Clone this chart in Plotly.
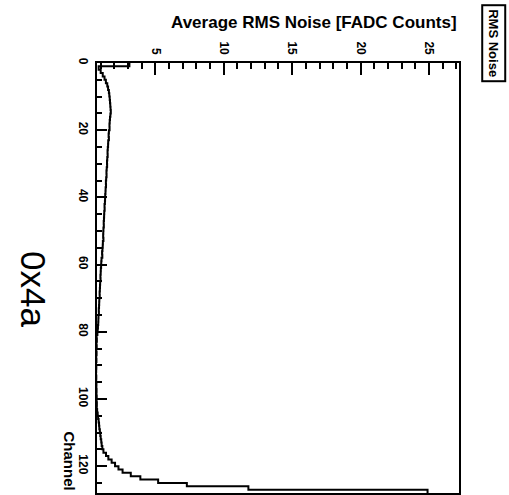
import plotly.graph_objects as go

# Channel bin low edges (128 channels, width 1)
channels = list(range(128))

# Average RMS noise per channel [FADC counts]
rms_noise = [
    3.1, 0.85, 1.0, 1.15, 1.28, 1.38, 1.48, 1.54, 1.6, 1.63,
    1.66, 1.68, 1.7, 1.72, 1.74, 1.71, 1.68, 1.66, 1.64, 1.65,
    1.6, 1.58, 1.6, 1.55, 1.54, 1.52, 1.5, 1.51, 1.48, 1.46,
    1.47, 1.44, 1.42, 1.43, 1.4, 1.38, 1.39, 1.36, 1.35, 1.33,
    1.32, 1.31, 1.28, 1.29, 1.26, 1.25, 1.24, 1.22, 1.23, 1.2,
    1.19, 1.18, 1.2, 1.16, 1.15, 1.13, 1.1, 1.12, 1.06, 1.04,
    1.03, 1.01, 1.0, 0.98, 0.99, 0.96, 0.95, 0.94, 0.92, 0.93,
    0.9, 0.89, 0.88, 0.86, 0.87, 0.84, 0.83, 0.82, 0.8, 0.78,
    0.76, 0.7, 0.72, 0.69, 0.71, 0.68, 0.7, 0.67, 0.69, 0.66,
    0.68, 0.67, 0.66, 0.68, 0.67, 0.69, 0.68, 0.7, 0.69, 0.71,
    0.7, 0.72, 0.71, 0.74, 0.78, 0.81, 0.85, 0.88, 0.9, 0.94,
    0.97, 1.0, 1.04, 1.07, 1.12, 1.2, 1.39, 1.56, 1.8, 2.05,
    2.3, 2.6, 3.2, 3.9, 5.2, 7.3, 11.8, 24.9,
]

value_range = [0.73, 27.2]
channel_range = [128, 0]

# step outline: each bin drawn from its low edge to the next edge
step_y = channels + [channels[-1] + 1]
step_x = rms_noise + [rms_noise[-1]]

FONT = "Liberation Sans, Arial, Helvetica, sans-serif"

fig = go.Figure()
fig.add_trace(go.Scatter(
    x=step_x, y=step_y, mode="lines",
    line=dict(color="black", width=2, shape="vh"),
    hoverinfo="skip", showlegend=False, cliponaxis=True,
))

fig.update_layout(
    width=509, height=495,
    margin=dict(l=97, r=50, t=63, b=0),
    paper_bgcolor="white", plot_bgcolor="white",
    showlegend=False,
    xaxis=dict(
        range=value_range, side="top",
        tick0=0, dtick=5, ticks="inside", ticklen=12, tickwidth=2, tickcolor="black",
        minor=dict(dtick=1, ticks="inside", ticklen=6, tickwidth=2, tickcolor="black"),
        tickangle=90, ticklabelstandoff=2,
        tickfont=dict(family=FONT, size=12, color="black", weight="bold"),
        showline=True, linecolor="black", linewidth=2, mirror=True,
        showgrid=False, zeroline=False,
    ),
    yaxis=dict(
        range=channel_range,
        tick0=0, dtick=20, ticks="inside", ticklen=10, tickwidth=2, tickcolor="black",
        minor=dict(dtick=5, ticks="inside", ticklen=5, tickwidth=2, tickcolor="black"),
        tickangle=90, ticklabelstandoff=2,
        tickfont=dict(family=FONT, size=12, color="black", weight="bold"),
        showline=True, linecolor="black", linewidth=2, mirror=True,
        showgrid=False, zeroline=False,
    ),
    annotations=[
        dict(text="Average RMS Noise [FADC Counts]", xref="paper", yref="paper",
             x=1.0, y=1.095, xanchor="right", yanchor="middle", showarrow=False,
             font=dict(family=FONT, size=17, color="black", weight="bold")),
        dict(text="Channel", xref="paper", yref="paper", textangle=90,
             x=-0.0746, y=0.0, xanchor="center", yanchor="bottom", showarrow=False,
             font=dict(family=FONT, size=15, color="black", weight="bold")),
        dict(text="0x4a", xref="paper", yref="paper", textangle=90,
             x=-0.177, y=0.4745, xanchor="center", yanchor="middle", showarrow=False,
             font=dict(family=FONT, size=35, color="black")),
        dict(text="RMS Noise", xref="paper", yref="paper", textangle=90,
             x=1.0967, y=1.046, xanchor="center", yanchor="middle", showarrow=False,
             bordercolor="black", borderwidth=2, borderpad=3, bgcolor="white",
             font=dict(family=FONT, size=13, color="black", weight="bold")),
    ],
)

fig.write_html("out.html")
